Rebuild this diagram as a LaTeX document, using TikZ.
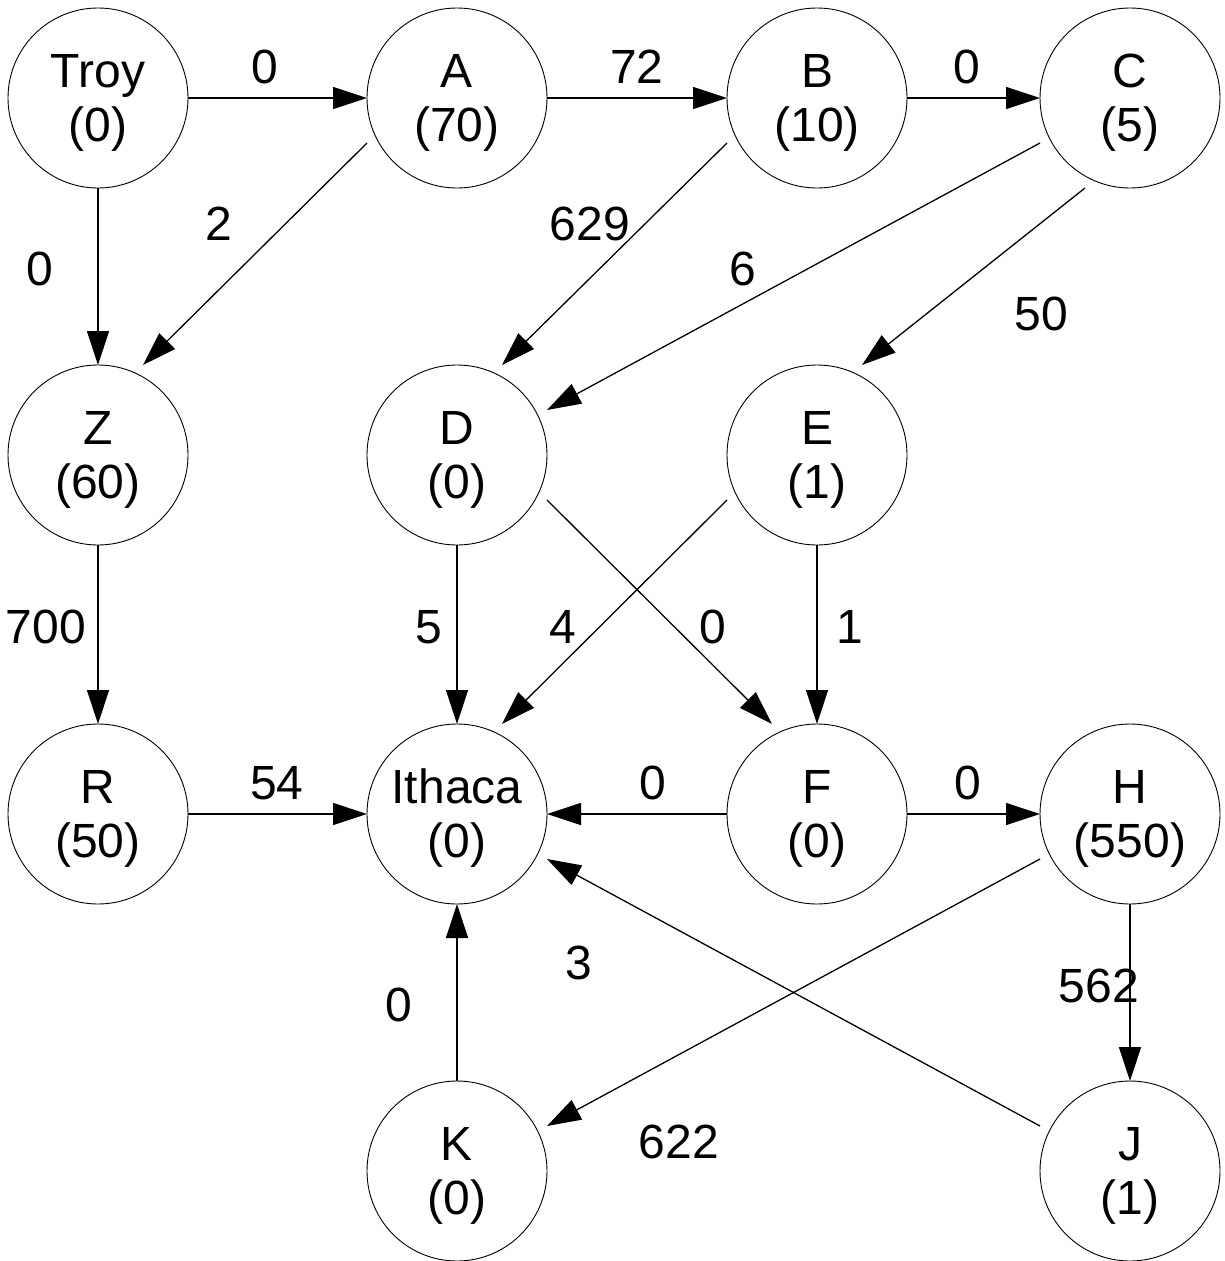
\documentclass[tikz,border=0pt]{standalone}
\usepackage{fontspec}
\setmainfont{Liberation Sans}
\usetikzlibrary{arrows.meta,calc}
\newcommand\twoline[2]{\rule{0pt}{42.4pt}#1\\#2}
\begin{document}
\begin{tikzpicture}[x=1pt,y=-1pt,
  city/.style={circle,draw,line width=0.9pt,minimum size=180pt,inner sep=0pt,
    align=center,font=\fontsize{48}{54}\selectfont},
  edge/.style={line width=1.3pt,-{Triangle[length=34pt,width=22pt]}},
  wt/.style={inner sep=0pt,font=\fontsize{48}{54}\selectfont}]
\useasboundingbox (0,0) rectangle (1225,1261);

% cities with their heuristic values
\node[city] (Troy)   at (98,98)    {\twoline{Troy}{(0)}};
\node[city] (A)      at (457,98)   {\twoline{A}{(70)}};
\node[city] (B)      at (817,98)   {\twoline{B}{(10)}};
\node[city] (C)      at (1130,98)  {\twoline{C}{(5)}};
\node[city] (Z)      at (98,455)   {\twoline{Z}{(60)}};
\node[city] (D)      at (457,455)  {\twoline{D}{(0)}};
\node[city] (E)      at (817,455)  {\twoline{E}{(1)}};
\node[city] (R)      at (98,814)   {\twoline{R}{(50)}};
\node[city] (Ithaca) at (457,814)  {\twoline{Ithaca}{(0)}};
\node[city] (F)      at (817,814)  {\twoline{F}{(0)}};
\node[city] (H)      at (1130,814) {\twoline{H}{(550)}};
\node[city] (K)      at (457,1171) {\twoline{K}{(0)}};
\node[city] (J)      at (1130,1171){\twoline{J}{(1)}};

% roads, attached to glue points on each city's bounding square
\draw[edge] ($(Troy)+(90,0)$)  -- ($(A)+(-90,0)$);
\draw[edge] ($(A)+(90,0)$)     -- ($(B)+(-90,0)$);
\draw[edge] ($(B)+(90,0)$)     -- ($(C)+(-90,0)$);
\draw[edge] ($(Troy)+(0,90)$)  -- ($(Z)+(0,-90)$);
\draw[edge] ($(A)+(-90,45)$)   -- ($(Z)+(45,-90)$);
\draw[edge] ($(B)+(-90,45)$)   -- ($(D)+(45,-90)$);
\draw[edge] ($(C)+(-90,45)$)   -- ($(D)+(90,-45)$);
\draw[edge] ($(C)+(-45,90)$)   -- ($(E)+(45,-90)$);
\draw[edge] ($(Z)+(0,90)$)     -- ($(R)+(0,-90)$);
\draw[edge] ($(D)+(0,90)$)     -- ($(Ithaca)+(0,-90)$);
\draw[edge] ($(E)+(-90,45)$)   -- ($(Ithaca)+(45,-90)$);
\draw[edge] ($(D)+(90,45)$)    -- ($(F)+(-45,-90)$);
\draw[edge] ($(E)+(0,90)$)     -- ($(F)+(0,-90)$);
\draw[edge] ($(R)+(90,0)$)     -- ($(Ithaca)+(-90,0)$);
\draw[edge] ($(F)+(-90,0)$)    -- ($(Ithaca)+(90,0)$);
\draw[edge] ($(F)+(90,0)$)     -- ($(H)+(-90,0)$);
\draw[edge] ($(H)+(0,90)$)     -- ($(J)+(0,-90)$);
\draw[edge] ($(H)+(-90,45)$)   -- ($(K)+(90,-45)$);
\draw[edge] ($(J)+(-90,-45)$)  -- ($(Ithaca)+(90,45)$);
\draw[edge] ($(K)+(0,-90)$)    -- ($(Ithaca)+(0,90)$);

% road costs
\node[wt] (wTA) at (265,67)   {0};
\node[wt] (wAB) at (637,67)   {72};
\node[wt] (wBC) at (967,67)   {0};
\node[wt] (wTZ) at (40,269)   {0};
\node[wt] (wAZ) at (219,224)  {2};
\node[wt] (wBD) at (590,224)  {629};
\node[wt] (wCD) at (743,269)  {6};
\node[wt] (wCE) at (1041,314) {50};
\node[wt] (wZR) at (46,627)   {700};
\node[wt] (wDI) at (429,627)  {5};
\node[wt] (wEI) at (563,627)  {4};
\node[wt] (wDF) at (713,627)  {0};
\node[wt] (wEF) at (850,627)  {1};
\node[wt] (wRI) at (277,783)  {54};
\node[wt] (wFI) at (653,783)  {0};
\node[wt] (wFH) at (968,783)  {0};
\node[wt] (wHJ) at (1099,986) {562};
\node[wt] (wHK) at (679,1142) {622};
\node[wt] (wJI) at (579,963)  {3};
\node[wt] (wKI) at (399,1005) {0};
\end{tikzpicture}
\end{document}
